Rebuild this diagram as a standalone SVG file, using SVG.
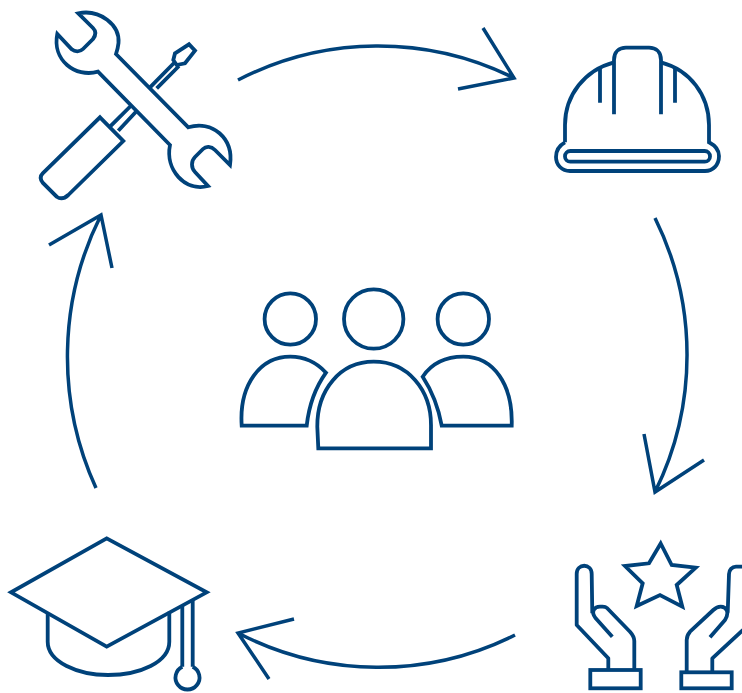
<svg xmlns="http://www.w3.org/2000/svg" width="742" height="693" viewBox="0 0 742 693">
<style>
path,circle,rect{fill:none;stroke:#00427a;stroke-width:3.8;stroke-linejoin:miter}
.c{stroke-width:3.5}
</style>
<rect width="742" height="693" style="fill:#fff;stroke:none"/>
<g id="connectors">
<path class="c" d="M238 80A305 305 0 0 1 514 78M483 28L514 78L458 89"/>
<path class="c" d="M655 218A309 309 0 0 1 655 492M644 434L655 492L704 460"/>
<path class="c" d="M515 635A305 305 0 0 1 238 633M294 619L238 633L269 679"/>
<path class="c" d="M96 488A316 316 0 0 1 101 215M49 245L101 215L112 268"/>
</g>
<g id="tools">
<path d="M78.300 13.300C100 9 120 25 118.500 43C118 48 117 51 116 54L188.300 127.300C212 120 234 138 230 165L215 150C211 146 206 146 203 149L195 157C191 161 191 168 195 172L208 186C185 192 165 170 170 145L98 71.700C75 78 52 60 57.300 34L71.700 49.300C75 52 80 52 83 49L93 39C96 35 96 31 93 28Z"/>
<path d="M100 117.300L123.300 141L68.300 195C64 199 60 199 56.700 196.700L42.700 182.700C40 179 40 176 42.700 173.300Z"/>
<path d="M110 126.700L131.700 105M118.300 130.700L136.700 111M150 87.300L175 62M156.700 88.300L179 66M175 53.300L189 44.300L195 50.700L185 63.300L176.700 65L173.300 60Z"/>
</g>
<g id="helmet">
<path d="M565 142.300V125C565 95 585 70 614 62.300M661 62.300C690 70 709 95 709 125V142.300C716 146 719 151 719 156C719 165 713 171 705 171H570C562 171 556 165 556 157C556 150 560 145 565 142.300"/>
<path d="M614 114.300V60C614 52 619 47.700 626 47.700H649C656 47.700 661 52 661 60V114.300M600 68.300V102.700M675 68.300V102.700"/>
<rect x="565" y="151" width="145" height="10.700" rx="5.300"/>
</g>
<g id="hands">
<path d="M660.700 543.500L671.700 565L695.700 567.700L676.700 585L682.300 606.700L660 595L636.700 606L642.700 583.300L625 566L649 563.300Z"/>
<path stroke-linejoin="round" style="stroke-linejoin:round" d="M608.300 670V658.300L576.700 625V574C576.700 563 591.700 563 591.700 574L592.300 613.300M612.300 636.700L595.700 618.300C590 611 595 606.700 600 606.700C603 606.700 605 606 607 608L630 631.700C633 635 634.300 638 634.300 641V670"/>
<rect x="590.300" y="670" width="50.400" height="18.300"/>
<path style="stroke-linejoin:round" d="M686.700 672V640C686.700 637 688 634 690 631.700L713.300 610C716 607.500 718 606.700 720.700 606.700C726 606.700 730 612 725 620L710 637.300M727.700 612.700L729 574C729 570 732 566.700 736 566.700H743M712.300 673V658.300L743 630"/>
<rect x="681.300" y="672.300" width="50.400" height="16"/>
</g>
<g id="cap">
<path d="M106.700 538.300L206.700 592.300L106.700 646.700L11 592.300Z"/>
<path d="M47.700 613.300V641.700C47.700 662 78 675 108 675C140 675 169.300 662 169.300 641.700V611.700"/>
<path d="M182.300 606V666.700M192.700 600.700V666.700"/>
<path d="M182.300 666.700A12 12 0 1 0 192.700 666.700"/>
</g>
<g id="people">
<circle cx="290.300" cy="319" r="25.700"/>
<circle cx="373.700" cy="319" r="29.700"/>
<circle cx="463.300" cy="319" r="25.700"/>
<path d="M318.300 448.300H431V425C431 390 408 361.700 373.700 361.700C340 361.700 317 390 317.300 426.700Z"/>
<path d="M241.700 425.700H306.700C309 405 315 388 326 372.700C316 362 304 356.700 290.300 356.700C260 356.700 239 385 241.700 425.700Z"/>
<path d="M511.700 425.700H441.700C438 405 432 391 422.700 376.700C432 363 447 356.700 463.300 356.700C494 356.700 513 385 511.700 425.700Z"/>
</g>
</svg>
